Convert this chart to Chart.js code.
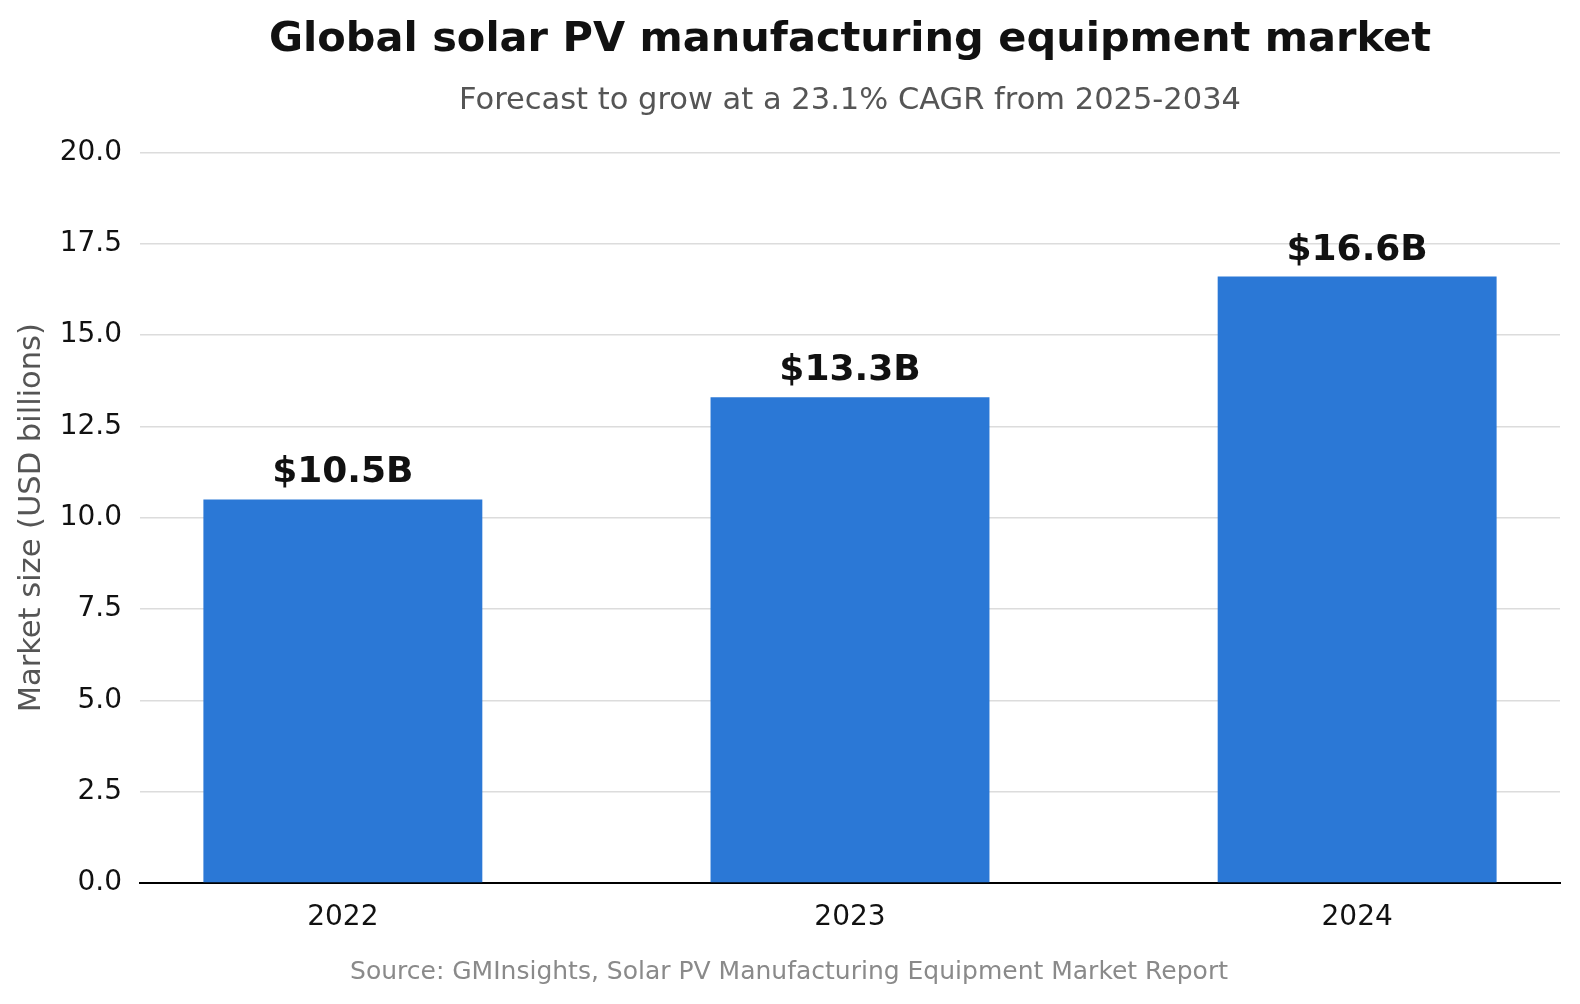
<!DOCTYPE html>
<html>
<head>
<meta charset="utf-8">
<script src="https://cdn.jsdelivr.net/npm/chart.js@4/dist/chart.umd.min.js"></script>
<style>
  html, body { margin: 0; padding: 0; background: #ffffff; }
  #wrap { width: 1580px; height: 1004px; }
</style>
</head>
<body>
<div id="wrap"><canvas id="c" width="1580" height="1004"></canvas></div>
<script>
// ---- data ----
const years = ['2022', '2023', '2024'];
const marketSize = [10.5, 13.3, 16.6];
const valueLabels = ['$10.5B', '$13.3B', '$16.6B'];
const yTicks = [0, 2.5, 5, 7.5, 10, 12.5, 15, 17.5, 20];

const titleText = 'Global solar PV manufacturing equipment market';
const subtitleText = 'Forecast to grow at a 23.1% CAGR from 2025-2034';
const yAxisTitle = 'Market size (USD billions)';
const sourceText = 'Source: GMInsights, Solar PV Manufacturing Equipment Market Report';

const FONT = "'DejaVu Sans', sans-serif";

const valueLabelPlugin = {
  id: 'valueLabels',
  afterDatasetsDraw(chart) {
    const ctx = chart.ctx;
    const meta = chart.getDatasetMeta(0);
    ctx.save();
    ctx.font = 'bold 36px ' + FONT;
    ctx.fillStyle = '#111111';
    ctx.textAlign = 'center';
    ctx.textBaseline = 'alphabetic';
    meta.data.forEach((bar, i) => {
      ctx.fillText(valueLabels[i], bar.x, bar.y - 17);
    });
    ctx.restore();
  }
};

const sourcePlugin = {
  id: 'sourceNote',
  afterDraw(chart) {
    const ctx = chart.ctx;
    ctx.save();
    ctx.font = '25px ' + FONT;
    ctx.fillStyle = '#8a8a8a';
    ctx.textAlign = 'center';
    ctx.textBaseline = 'middle';
    ctx.fillText(sourceText, chart.width / 2 - 1, chart.chartArea.bottom + 89);
    ctx.restore();
  }
};

new Chart(document.getElementById('c'), {
  type: 'bar',
  data: {
    datasets: [{
      data: marketSize.map((v, i) => ({ x: i, y: v })),
      backgroundColor: '#2b78d6',
      borderWidth: 0,
      categoryPercentage: 1.0,
      barPercentage: 0.55
    }]
  },
  options: {
    responsive: false,
    animation: false,
    devicePixelRatio: 1,
    layout: { padding: { top: 0, left: 0, right: 20, bottom: 59 } },
    plugins: {
      legend: { display: false },
      tooltip: { enabled: false },
      title: {
        display: true,
        fullSize: false,
        text: titleText,
        color: '#111111',
        font: { family: FONT, size: 41.5, weight: 'bold', lineHeight: 1.2 },
        padding: { top: 15, bottom: 8 }
      },
      subtitle: {
        display: true,
        fullSize: false,
        text: subtitleText,
        color: '#555555',
        font: { family: FONT, size: 30.5, lineHeight: 1.2 },
        padding: { top: 10, bottom: 33 }
      }
    },
    scales: {
      x: {
        type: 'linear',
        offset: false,
        min: -0.4,
        max: 2.4,
        afterBuildTicks(scale) { scale.ticks = years.map((y, i) => ({ value: i })); },
        afterFit(scale) { scale.height = 62; },
        ticks: {
          color: '#111111',
          font: { family: FONT, size: 28 },
          padding: 18,
          maxRotation: 0,
          autoSkip: false,
          callback: (v) => years[v]
        },
        grid: { display: false, drawTicks: false, offset: false },
        border: { display: true, color: '#000000', width: 2 }
      },
      y: {
        min: 0,
        max: 20,
        afterBuildTicks(scale) { scale.ticks = yTicks.map(v => ({ value: v })); },
        afterFit(scale) { scale.width = 140; },
        ticks: {
          color: '#111111',
          font: { family: FONT, size: 28 },
          padding: 18,
          callback: (v) => Number(v).toFixed(1)
        },
        grid: {
          drawTicks: false,
          color: (c) => (c.tick && c.tick.value === 0) ? 'rgba(0,0,0,0)' : '#dcdcdc',
          lineWidth: 1.5
        },
        border: { display: false },
        title: {
          display: true,
          text: yAxisTitle,
          color: '#555555',
          font: { family: FONT, size: 30.5, lineHeight: 1.2 },
          padding: { top: 14, bottom: 0 }
        }
      }
    }
  },
  plugins: [valueLabelPlugin, sourcePlugin]
});
</script>
</body>
</html>
